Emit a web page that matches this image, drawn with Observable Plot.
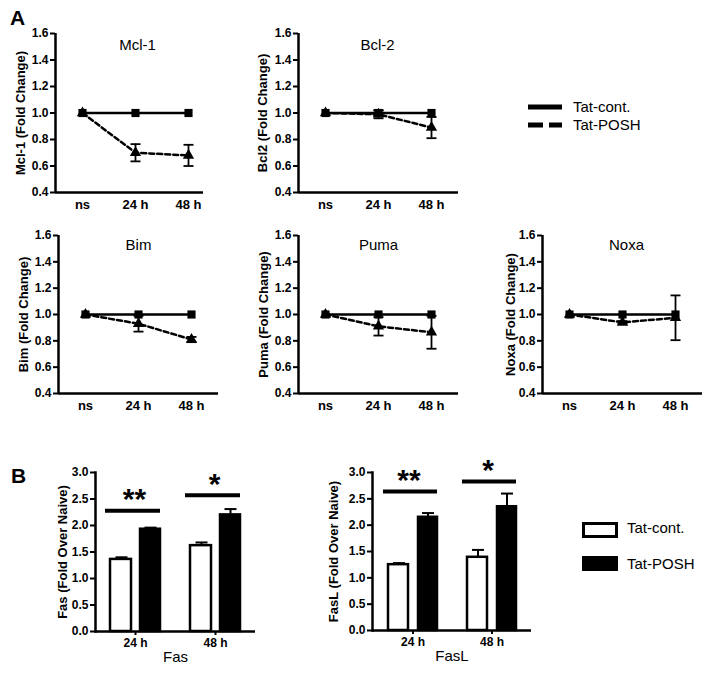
<!DOCTYPE html>
<html><head><meta charset="utf-8">
<script src="https://cdn.jsdelivr.net/npm/d3@7"></script>
<script src="https://cdn.jsdelivr.net/npm/@observablehq/plot@0.6"></script>
<style>
body{margin:0;background:#fff;}
#fig{position:relative;width:714px;height:674px;font-family:"Liberation Sans",Arial,sans-serif;}
#fig > *{position:absolute;}
</style></head><body><div id="fig"></div>
<script>
// ---------- data ----------
const times = ["ns", "24 h", "48 h"];
const genes = ["Mcl-1", "Bcl-2", "Bim", "Puma", "Noxa"];
const yLabels = ["Mcl-1 (Fold Change)", "Bcl2 (Fold Change)", "Bim (Fold Change)", "Puma (Fold Change)", "Noxa (Fold Change)"];
const yTicks = [0.4, 0.6, 0.8, 1.0, 1.2, 1.4, 1.6];
const contMeans = [[1, 1, 1], [1, 1, 1], [1, 1, 1], [1, 1, 1], [1, 1, 1]];
const contErr = [[0, 0, 0], [0, 0.02, 0], [0, 0, 0], [0, 0, 0], [0, 0, 0]];
const poshMeans = [[1, 0.70, 0.68], [1, 0.99, 0.89], [1, 0.93, 0.81], [1, 0.91, 0.865], [1, 0.94, 0.975]];
const poshErr = [[0, 0.065, 0.08], [0, 0.03, 0.08], [0, 0.06, 0.02], [0, 0.07, 0.125], [0, 0.01, 0.17]];
const seriesNames = ["Tat-cont.", "Tat-POSH"];

const barTimes = ["24 h", "48 h"];
const barTicks = [0, 0.5, 1.0, 1.5, 2.0, 2.5, 3.0];
const fasCont = [1.36, 1.62], fasContErr = [0.04, 0.06];
const fasPosh = [1.93, 2.20], fasPoshErr = [0.03, 0.11];
const fasSig = [2.28, 2.57];
const faslCont = [1.25, 1.39], faslContErr = [0.03, 0.14];
const faslPosh = [2.15, 2.35], faslPoshErr = [0.08, 0.25];
const faslSig = [2.64, 2.83];
const sigLabels = ["**", "*"];

// ---------- helpers ----------
const FONT = "Liberation Sans, Arial, sans-serif";
const fig = document.getElementById("fig");
const cap = {draw(ctx, size) { const w = Math.sqrt(size / Math.PI); ctx.moveTo(-w, 0); ctx.lineTo(w, 0); }};
function place(el, left, top) { el.style.left = left + "px"; el.style.top = top + "px"; fig.appendChild(el); }

const linePanels = [
  {left: 0,   top: 0,   width: 215, height: 220, ml: 55, mr: 12, mt: 33, mb: 28, lab: 35, tdx: 8,  tdy: 12},
  {left: 230, top: 0,   width: 235, height: 220, ml: 68, mr: 7,  mt: 33, mb: 28, lab: 36, tdx: -1, tdy: 12},
  {left: 0,   top: 200, width: 225, height: 220, ml: 58, mr: 7,  mt: 35, mb: 27, lab: 35, tdx: 0,  tdy: 10},
  {left: 230, top: 200, width: 235, height: 220, ml: 68, mr: 7,  mt: 35, mb: 27, lab: 35, tdx: 0,  tdy: 10},
  {left: 470, top: 200, width: 244, height: 220, ml: 72, mr: 12, mt: 35, mb: 27, lab: 32, tdx: 4,  tdy: 10}
];

linePanels.forEach((p, g) => {
  const fw = p.width - p.ml - p.mr;
  const xd = [-27 / 53, (fw - 27) / 53];
  const cont = times.map((t, i) => ({i, v: contMeans[g][i], e: contErr[g][i]}));
  const posh = times.map((t, i) => ({i, v: poshMeans[g][i], e: poshErr[g][i]}));
  const errs = [...posh, ...cont].filter(d => d.e > 0);
  const chart = Plot.plot({
    width: p.width, height: p.height,
    marginLeft: p.ml, marginRight: p.mr, marginTop: p.mt, marginBottom: p.mb,
    style: {fontFamily: FONT, fontWeight: "bold", color: "black", background: "transparent", overflow: "visible"},
    x: {domain: xd},
    y: {domain: [0.4, 1.6]},
    marks: [
      Plot.axisY({ticks: yTicks, tickFormat: d3.format(".1f"), tickSize: 5, tickPadding: 2, strokeWidth: 2, fontSize: 12, label: null}),
      Plot.axisX({ticks: [0, 1, 2], tickFormat: i => times[i], tickSize: 0, tickPadding: 7, fontSize: 13, label: null}),
      Plot.ruleY([0.4], {strokeWidth: 2.5}),
      Plot.ruleX([xd[0]], {strokeWidth: 2.5}),
      Plot.line(posh, {x: "i", y: "v", stroke: "black", strokeWidth: 2.5, strokeDasharray: "5,3"}),
      Plot.line(cont, {x: "i", y: "v", stroke: "black", strokeWidth: 2.5}),
      Plot.ruleX(errs, {x: "i", y1: d => d.v - d.e, y2: d => d.v + d.e, strokeWidth: 1.8}),
      Plot.dot(errs, {x: "i", y: d => d.v - d.e, symbol: cap, r: 5, fill: "none", stroke: "black", strokeWidth: 1.8}),
      Plot.dot(errs, {x: "i", y: d => d.v + d.e, symbol: cap, r: 5, fill: "none", stroke: "black", strokeWidth: 1.8}),
      Plot.dot(posh, {x: "i", y: "v", symbol: "triangle", r: 4.2, fill: "black"}),
      Plot.dot(cont, {x: "i", y: "v", symbol: "square", r: 4.6, fill: "black"}),
      Plot.text([genes[g]], {frameAnchor: "top", dx: p.tdx, dy: p.tdy, lineAnchor: "middle", fontSize: 15, fontWeight: "normal"}),
      Plot.text([yLabels[g]], {frameAnchor: "left", textAnchor: "middle", rotate: -90, dx: -p.lab, lineAnchor: "middle", fontSize: 13})
    ]
  });
  place(chart, p.left, p.top);
});

const barPanels = [
  {cont: fasCont, contE: fasContErr, posh: fasPosh, poshE: fasPoshErr, sig: fasSig, yLabel: "Fas (Fold Over Naive)", xLabel: "Fas",
   left: 0, top: 440, width: 270, height: 234, ml: 95, mr: 15, mt: 32, mb: 43, lab: 33, starDx: -1},
  {cont: faslCont, contE: faslContErr, posh: faslPosh, poshE: faslPoshErr, sig: faslSig, yLabel: "FasL (Fold Over Naive)", xLabel: "FasL",
   left: 290, top: 440, width: 255, height: 234, ml: 82, mr: 14, mt: 32, mb: 44, lab: 39, starDx: -4}
];

barPanels.forEach(p => {
  const cont = barTimes.map((t, i) => ({t, v: p.cont[i], e: p.contE[i]}));
  const posh = barTimes.map((t, i) => ({t, v: p.posh[i], e: p.poshE[i]}));
  const sig = barTimes.map((t, i) => ({t, s: p.sig[i], lab: sigLabels[i]}));
  const errMarks = (rows, dx) => [
    Plot.ruleX(rows, {x: "t", y1: "v", y2: d => d.v + d.e, dx, strokeWidth: 2}),
    Plot.dot(rows, {x: "t", y: d => d.v + d.e, dx, symbol: cap, r: 6, fill: "none", stroke: "black", strokeWidth: 2})
  ];
  const chart = Plot.plot({
    width: p.width, height: p.height,
    marginLeft: p.ml, marginRight: p.mr, marginTop: p.mt, marginBottom: p.mb,
    style: {fontFamily: FONT, fontWeight: "bold", color: "black", background: "transparent", overflow: "visible"},
    x: {domain: barTimes, padding: 0},
    y: {domain: [0, 3]},
    marks: [
      ...errMarks(cont, -14),
      ...errMarks(posh, 15),
      Plot.barY(cont, {x: "t", y: "v", insetLeft: 15, insetRight: 44, fill: "white", stroke: "black", strokeWidth: 2.5}),
      Plot.barY(posh, {x: "t", y: "v", insetLeft: 45, insetRight: 15, fill: "black", stroke: "black", strokeWidth: 2.5}),
      Plot.axisY({ticks: barTicks, tickFormat: d3.format(".1f"), tickSize: 5, tickPadding: 2, strokeWidth: 2, fontSize: 12, label: null}),
      Plot.axisX({tickSize: 4, tickPadding: 3, strokeWidth: 2, fontSize: 12, label: null}),
      Plot.ruleY([0], {strokeWidth: 2.5}),
      Plot.frame({anchor: "left", strokeWidth: 2.5}),
      Plot.tickY(sig, {x: "t", y: "s", insetLeft: 10, insetRight: 15, strokeWidth: 4}),
      Plot.text(sig, {x: "t", y: "s", text: "lab", dx: p.starDx, lineAnchor: "middle", dy: -11, fontSize: 30}),
      Plot.text([p.yLabel], {frameAnchor: "left", textAnchor: "middle", rotate: -90, dx: -p.lab, lineAnchor: "middle", fontSize: 13}),
      Plot.text([p.xLabel], {frameAnchor: "bottom", dy: 26, lineAnchor: "middle", fontSize: 15, fontWeight: "normal"})
    ]
  });
  place(chart, p.left, p.top);
});

// ---------- legends and panel letters ----------
const ns = "http://www.w3.org/2000/svg";
const over = document.createElementNS(ns, "svg");
over.setAttribute("width", 714); over.setAttribute("height", 674);
over.style.pointerEvents = "none";
over.style.fontFamily = FONT;
over.innerHTML = `
  <text x="10" y="25" font-size="21" font-weight="bold">A</text>
  <text x="11" y="483" font-size="21" font-weight="bold">B</text>
  <line x1="528" x2="562" y1="107" y2="107" stroke="black" stroke-width="5"/>
  <line x1="528" x2="562" y1="125" y2="125" stroke="black" stroke-width="5" stroke-dasharray="15,6"/>
  <text x="573" y="112" font-size="15">${seriesNames[0]}</text>
  <text x="573" y="130" font-size="15">${seriesNames[1]}</text>
  <rect x="583.5" y="523.5" width="33" height="13" fill="white" stroke="black" stroke-width="3"/>
  <rect x="582" y="556" width="36" height="15" fill="black"/>
  <text x="627" y="533" font-size="15">${seriesNames[0]}</text>
  <text x="627" y="569" font-size="15">${seriesNames[1]}</text>
`;
place(over, 0, 0);
</script></body></html>
